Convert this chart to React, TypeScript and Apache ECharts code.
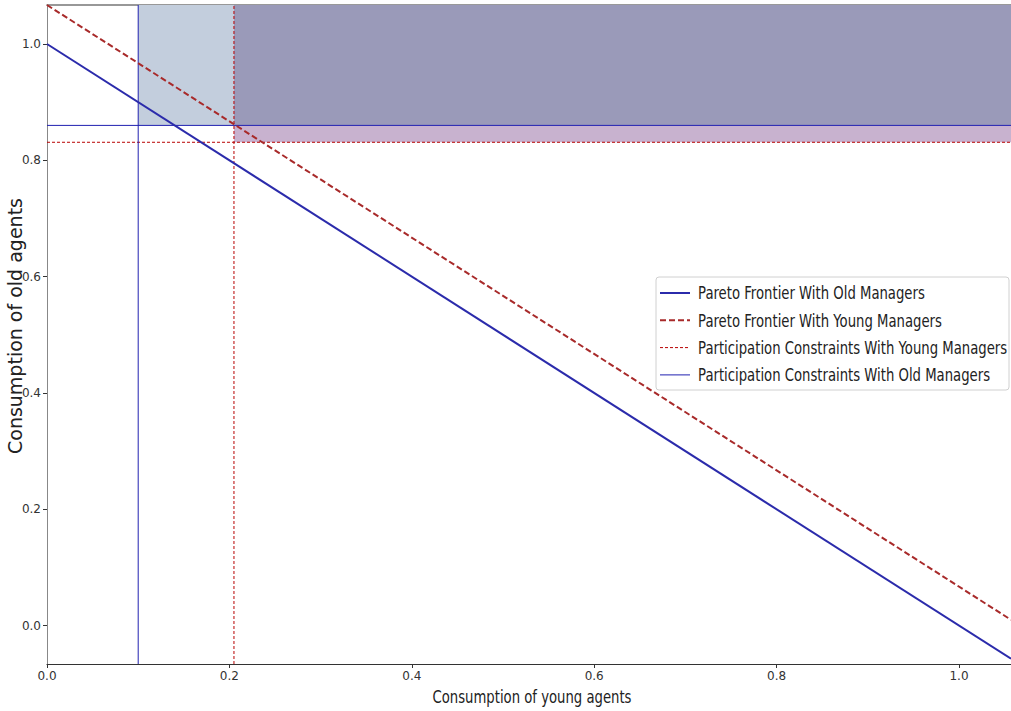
import React, { useEffect, useRef } from "react";
import * as echarts from "echarts";

const X_MIN = 0;
const X_MAX = 1.057;
const Y_MIN = -0.066;
const Y_MAX = 1.067;
const TICKS = [0, 0.2, 0.4, 0.6, 0.8, 1.0];

const paretoX = [0, 1.057];
const paretoOld = [1.0, -0.057];
const paretoYoung = [1.067, 0.01];

const youngConstraintX = 0.205;
const youngConstraintY = 0.831;
const oldConstraintX = 0.1;
const oldConstraintY = 0.86;

const NAMES = [
  "Pareto Frontier With Old Managers",
  "Pareto Frontier With Young Managers",
  "Participation Constraints With Young Managers",
  "Participation Constraints With Old Managers",
];

const COLORS = ["#2b2bab", "#a82a2a", "#b80000", "#2020b0"];
const WIDTHS = [2, 2, 1, 1];
const DASHES: any[] = [null, [6, 3], [3, 2], null];

const FONT = "'DejaVu Sans', sans-serif";
const SQUEEZE = 0.735;

export default function App() {
  const ref = useRef<HTMLDivElement>(null);
  useEffect(() => {
    document.body.style.margin = "0";
    const chart = echarts.init(ref.current!, null, { renderer: "svg" });
    const pts = (xs: number[], ys: number[]) => xs.map((x, i) => [x, ys[i]]);
    const lineStyle = (i: number) => ({
      color: COLORS[i],
      width: WIDTHS[i],
      type: DASHES[i] || "solid",
    });

    const LX = 656;
    const LY = 277;
    const legendChildren: any[] = [
      {
        type: "rect",
        shape: { x: 0, y: 0, width: 353, height: 113, r: 3 },
        style: { fill: "#ffffff", stroke: "#d0d0d0", lineWidth: 1 },
      },
    ];
    NAMES.forEach((n, i) => {
      const cy = 16 + i * 27.3;
      legendChildren.push({
        type: "line",
        shape: { x1: 4, y1: cy, x2: 34, y2: cy },
        style: {
          stroke: COLORS[i],
          lineWidth: WIDTHS[i],
          lineDash: DASHES[i] || null,
        },
      });
      legendChildren.push({
        type: "text",
        x: 42,
        y: cy,
        scaleX: SQUEEZE,
        style: {
          text: n,
          font: `18px ${FONT}`,
          fill: "#222",
          verticalAlign: "middle",
          textAlign: "left",
        },
      });
    });

    chart.setOption({
      animation: false,
      backgroundColor: "#ffffff",
      grid: { left: 47, right: 0, top: 5, bottom: 47, containLabel: false, outerBoundsMode: "none" },
      graphic: [
        {
          type: "group",
          x: LX,
          y: LY,
          z: 100,
          children: legendChildren,
        },
        {
          type: "text",
          x: 532,
          y: 697,
          scaleX: SQUEEZE,
          z: 100,
          style: {
            text: "Consumption of young agents",
            font: `18px ${FONT}`,
            fill: "#222",
            textAlign: "center",
            verticalAlign: "middle",
          },
        },
        {
          type: "text",
          x: 15,
          y: 326,
          rotation: Math.PI / 2,
          z: 100,
          style: {
            text: "Consumption of old agents",
            font: `19px ${FONT}`,
            fill: "#222",
            textAlign: "center",
            verticalAlign: "middle",
          },
        },
      ],
      xAxis: [
        {
          type: "value",
          min: X_MIN,
          max: X_MAX,
          splitLine: { show: false },
          axisLine: { show: true, onZero: false, lineStyle: { color: "#333", width: 1.2 } },
          axisTick: { show: true, customValues: TICKS, length: 4, lineStyle: { color: "#333" } },
          axisLabel: {
            customValues: TICKS,
            formatter: (v: number) => v.toFixed(1),
            fontFamily: FONT,
            fontSize: 12,
            color: "#333",
            margin: 6,
          },
        },
        {
          type: "value",
          position: "top",
          min: X_MIN,
          max: X_MAX,
          splitLine: { show: false },
          axisLine: { show: true, onZero: false, lineStyle: { color: "#777", width: 1.5 } },
          axisTick: { show: false },
          axisLabel: { show: false },
        },
      ],
      yAxis: {
        type: "value",
        min: Y_MIN,
        max: Y_MAX,
        splitLine: { show: false },
        axisLine: { show: true, onZero: false, lineStyle: { color: "#888", width: 1 } },
        axisTick: { show: true, customValues: TICKS, length: 4, lineStyle: { color: "#333" } },
        axisLabel: {
          customValues: TICKS,
          formatter: (v: number) => v.toFixed(1),
          fontFamily: FONT,
          fontSize: 12,
          color: "#333",
          margin: 6,
        },
      },
      series: [
        {
          name: "shade",
          type: "line",
          data: [],
          silent: true,
          markArea: {
            silent: true,
            data: [
              [
                { coord: [oldConstraintX, oldConstraintY], itemStyle: { color: "#c3cedd" } },
                { coord: [youngConstraintX, Y_MAX] },
              ],
              [
                { coord: [youngConstraintX, oldConstraintY], itemStyle: { color: "#9a9ab9" } },
                { coord: [X_MAX, Y_MAX] },
              ],
              [
                { coord: [youngConstraintX, youngConstraintY], itemStyle: { color: "#c8b2cf" } },
                { coord: [X_MAX, oldConstraintY] },
              ],
            ],
          },
        },
        {
          name: NAMES[2] + " (v)",
          type: "line",
          data: [
            [youngConstraintX, Y_MIN],
            [youngConstraintX, Y_MAX],
          ],
          symbol: "none",
          silent: true,
          lineStyle: lineStyle(2),
          z: 4,
        },
        {
          name: NAMES[2],
          type: "line",
          data: [
            [X_MIN, youngConstraintY],
            [X_MAX, youngConstraintY],
          ],
          symbol: "none",
          silent: true,
          lineStyle: lineStyle(2),
          z: 4,
        },
        {
          name: NAMES[3] + " (v)",
          type: "line",
          data: [
            [oldConstraintX, Y_MIN],
            [oldConstraintX, Y_MAX],
          ],
          symbol: "none",
          silent: true,
          lineStyle: lineStyle(3),
          z: 4,
        },
        {
          name: NAMES[3],
          type: "line",
          data: [
            [X_MIN, oldConstraintY],
            [X_MAX, oldConstraintY],
          ],
          symbol: "none",
          silent: true,
          lineStyle: lineStyle(3),
          z: 4,
        },
        {
          name: NAMES[0],
          type: "line",
          data: pts(paretoX, paretoOld),
          symbol: "none",
          silent: true,
          lineStyle: lineStyle(0),
          z: 5,
        },
        {
          name: NAMES[1],
          type: "line",
          data: pts(paretoX, paretoYoung),
          symbol: "none",
          silent: true,
          lineStyle: lineStyle(1),
          z: 5,
        },
      ],
    });
    return () => chart.dispose();
  }, []);
  return <div ref={ref} style={{ width: 1011, height: 711 }} />;
}
